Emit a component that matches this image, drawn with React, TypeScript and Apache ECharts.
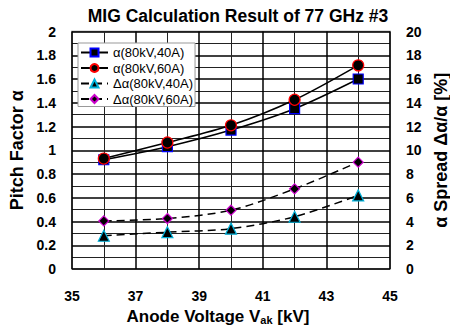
import React, { useEffect, useRef } from "react";
import * as echarts from "echarts";

const voltages = [36, 38, 40, 42, 44];
const alpha40A = [0.92, 1.03, 1.17, 1.35, 1.6];
const alpha60A = [0.93, 1.065, 1.21, 1.425, 1.715];
const dAlpha40A = [2.8, 3.1, 3.4, 4.4, 6.2];
const dAlpha60A = [4.05, 4.25, 4.95, 6.75, 9.0];
const seriesNames = ["α(80kV,40A)", "α(80kV,60A)", "Δα(80kV,40A)", "Δα(80kV,60A)"];

const FONT = "'Liberation Sans', Arial, sans-serif";

export default function App() {
  const ref = useRef<HTMLDivElement>(null);
  useEffect(() => {
    if (!ref.current) return;
    const chart = echarts.init(ref.current, undefined, { renderer: "svg" });
    const pts = (ys: number[]) => voltages.map((x, i) => [x, ys[i]]);
    const labelStyle = { color: "#000", fontWeight: "bold" as const, fontSize: 14, fontFamily: FONT };
    chart.setOption({
      animation: false,
      backgroundColor: "#fff",
      title: {
        text: "MIG Calculation Result of 77 GHz #3",
        left: 233,
        textAlign: "center",
        top: 2,
        textStyle: { fontSize: 17.5, fontWeight: "bold", color: "#000", fontFamily: FONT },
      },
      legend: {
        left: 78,
        top: 43,
        orient: "vertical",
        backgroundColor: "#fff",
        borderColor: "#999",
        borderWidth: 1,
        padding: [3, 2, 1, 2],
        itemWidth: 27,
        itemHeight: 10,
        itemGap: 2.5,
        textStyle: { fontSize: 13, color: "#000", fontFamily: FONT },
        data: seriesNames,
      },
      grid: {
        left: 72,
        right: 60,
        top: 31.5,
        bottom: 60,
        outerBoundsMode: "none",
        containLabel: false,
        show: true,
        borderColor: "#808080",
        borderWidth: 1.5,
      },
      xAxis: {
        type: "value",
        min: 35,
        max: 45,
        interval: 2,
        name: "Anode Voltage V{sub|ak} [kV]",
        nameLocation: "middle",
        nameGap: 27,
        nameTextStyle: {
          fontSize: 17,
          fontWeight: "bold",
          color: "#000",
          fontFamily: FONT,
          padding: [0, 26, 0, 0],
          rich: {
            sub: { fontSize: 11, fontWeight: "bold", color: "#000", fontFamily: FONT, verticalAlign: "bottom", padding: [7, 0, 0, 0] },
          },
        },
        axisLine: { show: false },
        axisTick: { show: false },
        axisLabel: { ...labelStyle, margin: 20 },
        splitLine: { show: true, lineStyle: { color: "#000", width: 1.5 } },
        minorTick: { show: true, splitNumber: 2, length: 0 },
        minorSplitLine: { show: true, lineStyle: { color: "#222", width: 1 } },
      },
      yAxis: [
        {
          type: "value",
          min: 0,
          max: 2,
          interval: 0.2,
          name: "Pitch Factor α",
          nameLocation: "middle",
          nameGap: 42,
          nameTextStyle: { fontSize: 18, fontWeight: "bold", color: "#000", fontFamily: FONT },
          axisLine: { show: false },
          axisTick: { show: false },
          axisLabel: { ...labelStyle, margin: 16 },
          splitLine: { show: true, lineStyle: { color: "#000", width: 1.5 } },
          minorTick: { show: true, splitNumber: 2, length: 0 },
          minorSplitLine: { show: true, lineStyle: { color: "#222", width: 1 } },
        },
        {
          type: "value",
          min: 0,
          max: 20,
          interval: 2,
          name: "α Spread Δα/α [%]",
          nameLocation: "middle",
          nameGap: 42,
          nameRotate: 90,
          nameTextStyle: { fontSize: 18, fontWeight: "bold", color: "#000", fontFamily: FONT },
          axisLine: { show: false },
          axisTick: { show: false },
          axisLabel: { ...labelStyle, margin: 16 },
          splitLine: { show: false },
        },
      ],
      series: [
        {
          name: seriesNames[0],
          type: "line",
          smooth: 0.3,
          data: pts(alpha40A),
          symbol: "rect",
          symbolSize: 10,
          lineStyle: { color: "#000", width: 1.5 },
          itemStyle: { color: "#000", borderColor: "#0000ff", borderWidth: 1.2 },
        },
        {
          name: seriesNames[1],
          type: "line",
          smooth: 0.3,
          data: pts(alpha60A),
          symbol: "circle",
          symbolSize: 11,
          lineStyle: { color: "#000", width: 1.5 },
          itemStyle: { color: "#000", borderColor: "#ff0000", borderWidth: 1.2 },
        },
        {
          name: seriesNames[2],
          type: "line",
          smooth: 0.3,
          yAxisIndex: 1,
          data: pts(dAlpha40A),
          symbol: "triangle",
          symbolSize: 11,
          lineStyle: { color: "#000", width: 1.5, type: [8, 5] },
          itemStyle: { color: "#000", borderColor: "#00b0d8", borderWidth: 1.2 },
        },
        {
          name: seriesNames[3],
          type: "line",
          smooth: 0.3,
          yAxisIndex: 1,
          data: pts(dAlpha60A),
          symbol: "diamond",
          symbolSize: 10,
          lineStyle: { color: "#000", width: 1.5, type: [8, 5] },
          itemStyle: { color: "#000", borderColor: "#cc00cc", borderWidth: 1.2 },
        },
      ],
    });
    return () => chart.dispose();
  }, []);
  return <div ref={ref} style={{ position: "fixed", left: 0, top: 0, width: 450, height: 329 }} />;
}
